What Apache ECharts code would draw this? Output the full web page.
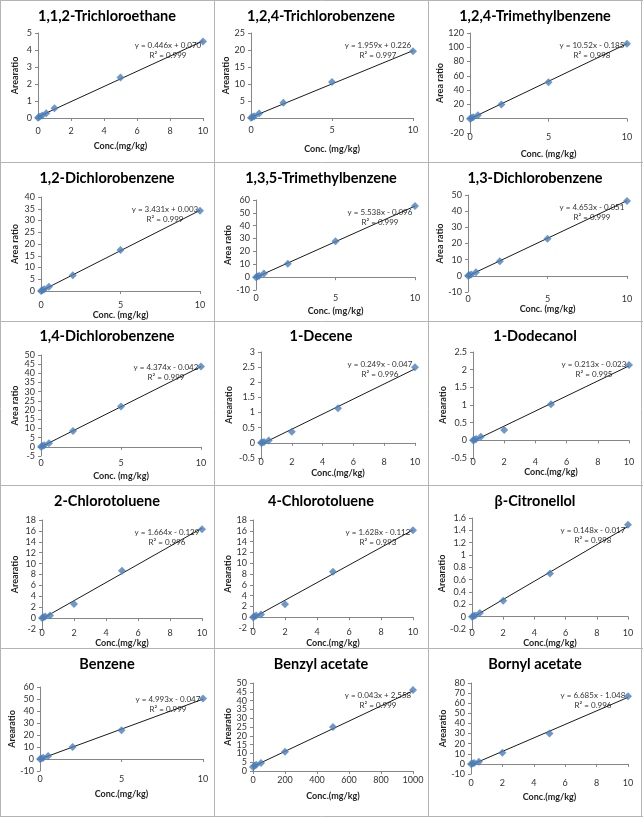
<!DOCTYPE html>
<html><head><meta charset="utf-8">
<script src="https://cdn.jsdelivr.net/npm/echarts@6/dist/echarts.min.js"></script>
<style>html,body{margin:0;padding:0;background:#fff}#c{width:643px;height:817px}</style>
</head><body><div id="c"></div>
<script>
// ---------- data ----------
const titles = ['1,1,2-Trichloroethane','1,2,4-Trichlorobenzene','1,2,4-Trimethylbenzene',
  '1,2-Dichlorobenzene','1,3,5-Trimethylbenzene','1,3-Dichlorobenzene',
  '1,4-Dichlorobenzene','1-Decene','1-Dodecanol',
  '2-Chlorotoluene','4-Chlorotoluene','β-Citronellol',
  'Benzene','Benzyl acetate','Bornyl acetate'];
const xNames = ['Conc.(mg/kg)','Conc. (mg/kg)','Conc. (mg/kg)','Conc. (mg/kg)','Conc. (mg/kg)','Conc. (mg/kg)',
  'Conc. (mg/kg)','Conc.(mg/kg)','Conc.(mg/kg)','Conc.(mg/kg)','Conc.(mg/kg)','Conc.(mg/kg)',
  'Conc.(mg/kg)','Conc.(mg/kg)','Conc.(mg/kg)'];
const yNames = ['Arearatio','Arearatio','Area ratio','Area ratio','Area ratio','Area ratio',
  'Area ratio','Arearatio','Arearatio','Arearatio','Arearatio','Arearatio',
  'Arearatio','Arearatio','Arearatio'];
const concA = [0, 0.1, 0.25, 0.5, 1, 5, 10];
const concB = [0, 0.1, 0.2, 0.5, 2, 5, 10];
const concC = [0, 10, 20, 50, 200, 500, 1000];
const concX = [concA, concB, concB, concB, concB, concB, concB, concB, concB, concB, concB, concB, concB, concC, concB];
const trichloroethane = [0.02, 0.08, 0.15, 0.28, 0.57, 2.38, 4.5];
const trichlorobenzene = [0.05, 0.3, 0.55, 1.3, 4.5, 10.6, 19.6];
const trimethylbenzene124 = [0, 1, 2, 5, 20, 51, 105];
const dichlorobenzene12 = [0, 0.3, 0.7, 1.8, 6.7, 17.5, 34.2];
const trimethylbenzene135 = [0, 0.5, 1, 2.8, 10.5, 28, 55.3];
const dichlorobenzene13 = [0, 0.4, 0.9, 2.2, 9, 23, 46.3];
const dichlorobenzene14 = [0, 0.4, 0.8, 2, 8.6, 22, 43.8];
const decene = [0, 0.01, 0.03, 0.08, 0.37, 1.14, 2.5];
const dodecanol = [0, 0.02, 0.04, 0.1, 0.29, 1.02, 2.13];
const chlorotoluene2 = [0, 0.15, 0.3, 0.5, 2.6, 8.7, 16.3];
const chlorotoluene4 = [0, 0.15, 0.3, 0.5, 2.4, 8.4, 16.1];
const citronellol = [0, 0.01, 0.02, 0.06, 0.26, 0.7, 1.49];
const benzene = [0, 0.5, 1, 2.5, 10, 24, 50.5];
const benzylAcetate = [2.3, 3, 3.5, 4.5, 11, 25, 46];
const bornylAcetate = [0, 0.5, 1, 2, 11, 30, 67];
const areaRatios = [trichloroethane, trichlorobenzene, trimethylbenzene124, dichlorobenzene12, trimethylbenzene135,
  dichlorobenzene13, dichlorobenzene14, decene, dodecanol, chlorotoluene2, chlorotoluene4, citronellol,
  benzene, benzylAcetate, bornylAcetate];
const slopes = [0.446, 1.959, 10.52, 3.431, 5.538, 4.653, 4.374, 0.249, 0.213, 1.664, 1.628, 0.148, 4.993, 0.043, 6.685];
const intercepts = [0.070, 0.226, -0.185, 0.003, -0.096, -0.051, -0.042, -0.047, -0.023, -0.129, -0.112, -0.017, -0.047, 2.558, -1.048];
const eqTexts = ['y = 0.446x + 0.070','y = 1.959x + 0.226','y = 10.52x - 0.185','y = 3.431x + 0.003','y = 5.538x - 0.096',
  'y = 4.653x - 0.051','y = 4.374x - 0.042','y = 0.249x - 0.047','y = 0.213x - 0.023','y = 1.664x - 0.129',
  'y = 1.628x - 0.112','y = 0.148x - 0.017','y = 4.993x - 0.047','y = 0.043x + 2.558','y = 6.685x - 1.048'];
const r2Texts = ['R² = 0.999','R² = 0.997','R² = 0.998','R² = 0.999','R² = 0.999','R² = 0.999','R² = 0.999','R² = 0.996',
  'R² = 0.995','R² = 0.996','R² = 0.993','R² = 0.998','R² = 0.999','R² = 0.999','R² = 0.996'];
const yMin = [0, 0, -20, 0, -10, -10, -5, -0.5, -0.5, -2, -2, -0.2, -10, 0, -10];
const yMax = [5, 25, 120, 40, 60, 50, 50, 3, 2.5, 18, 18, 1.6, 60, 50, 80];
const yStep = [1, 5, 20, 5, 10, 10, 5, 0.5, 0.5, 2, 2, 0.2, 10, 5, 10];
const xMax = [10, 10, 10, 10, 10, 10, 10, 10, 10, 10, 10, 10, 10, 1000, 10];
const xStep = [2, 5, 5, 5, 5, 5, 5, 2, 2, 2, 2, 2, 5, 200, 2];

// ---------- layout (pixels) ----------
// [left, top, right, bottom, xLabelCenterY, xNameCenterY]
const layout = [
  [38, 33, 203, 118, 132, 147], [251, 33, 413, 118, 131, 150], [470, 33, 627, 133, 137, 155],
  [41, 197, 200, 291, 306, 316], [256, 200, 415, 290, 299, 312], [468, 195, 627, 292, 300, 310],
  [41, 355, 201, 456, 464, 477], [261, 352, 415, 458, 461, 474], [473, 352, 629, 458, 461, 471],
  [42, 520, 202, 629, 633, 641], [253, 520, 413, 628, 632, 644], [472, 518, 628, 629, 633, 644],
  [40, 687, 203, 771, 780, 795], [253, 683, 413, 771, 781, 797], [471, 683, 628, 774, 784, 798]
];
const cellX = [0, 214, 428];
const cellTitleY = [16, 178, 336, 501, 664];

const FONT = 'Lato, "Open Sans", sans-serif';
const fmt = v => String(+v.toFixed(4));
const ticksOf = (mn, mx, st) => { const a = []; const n = Math.round((mx - mn) / st); for (let k = 0; k <= n; k++) a.push(+(mn + k * st).toFixed(4)); return a; };
const grids = [], xAxes = [], yAxes = [], series = [], graphics = [];
const lblStyle = {fontSize: 9, color: '#333', fontFamily: FONT};
layout.forEach((L, i) => {
  const [l, t, r, b, lblY, nameY] = L;
  const col = i % 3, row = Math.floor(i / 3);
  grids.push({left: l, top: t, width: r - l, height: b - t});
  const xt = ticksOf(0, xMax[i], xStep[i]);
  const yt = ticksOf(yMin[i], yMax[i], yStep[i]);
  const ytEven = yt.filter((v, k) => k % 2 === 0);
  const ytOdd = yt.filter((v, k) => k % 2 === 1);
  // label axis (bottom)
  xAxes.push({
    gridIndex: i, type: 'value', min: 0, max: xMax[i], interval: xStep[i],
    axisLine: {show: false, onZero: false}, axisTick: {show: false}, splitLine: {show: false},
    axisLabel: Object.assign({margin: Math.max(0, lblY - b - 5), formatter: fmt, customValues: xt}, lblStyle),
    name: xNames[i], nameLocation: 'middle', nameGap: nameY - b - 5,
    nameTextStyle: {fontSize: 9, fontWeight: 'bold', color: '#222', fontFamily: FONT}
  });
  // line axis at zero
  xAxes.push({
    gridIndex: i, type: 'value', min: 0, max: xMax[i], interval: xStep[i], position: 'bottom',
    axisLine: {show: true, onZero: true, lineStyle: {color: '#868686', width: 1}},
    axisTick: {show: true, length: 3, customValues: xt, lineStyle: {color: '#868686'}},
    axisLabel: {show: false}, splitLine: {show: false}
  });
  // main y axis: line, ticks, even labels, name
  yAxes.push({
    gridIndex: i, type: 'value', min: yMin[i], max: yMax[i], interval: yStep[i], position: 'left',
    axisLine: {show: true, onZero: false, lineStyle: {color: '#868686', width: 1}},
    axisTick: {show: true, length: 3, customValues: yt, lineStyle: {color: '#868686'}},
    splitLine: {show: false},
    axisLabel: Object.assign({margin: 6, formatter: fmt, customValues: ytEven}, lblStyle),
    name: yNames[i], nameLocation: 'middle', nameRotate: 90, nameGap: l - cellX[col] - 20,
    nameTextStyle: {fontSize: 9, fontWeight: 'bold', color: '#222', fontFamily: FONT}
  });
  // secondary y axis: odd labels only
  yAxes.push({
    gridIndex: i, type: 'value', min: yMin[i], max: yMax[i], interval: yStep[i], position: 'left', offset: 0,
    axisLine: {show: false, onZero: false}, axisTick: {show: false}, splitLine: {show: false},
    axisLabel: Object.assign({margin: 6, formatter: fmt, customValues: ytOdd}, lblStyle)
  });
  series.push({
    type: 'line', xAxisIndex: 2 * i, yAxisIndex: 2 * i, showSymbol: false, silent: true,
    lineStyle: {color: '#000', width: 0.9}, animation: false, z: 2,
    data: [[0, intercepts[i]], [xMax[i], slopes[i] * xMax[i] + intercepts[i]]]
  });
  series.push({
    type: 'scatter', xAxisIndex: 2 * i, yAxisIndex: 2 * i, symbol: 'diamond', symbolSize: 8,
    itemStyle: {color: '#4a7ebb'}, animation: false, z: 3,
    data: concX[i].map((x, k) => [x, areaRatios[i][k]])
  });
  graphics.push({
    type: 'text', x: cellX[col] + 107, y: cellTitleY[row], silent: true,
    style: {text: titles[i], fontSize: 14.5, fontWeight: 'bold', fill: '#000', fontFamily: FONT,
      textAlign: 'center', textVerticalAlign: 'middle'}
  });
  graphics.push({
    type: 'text', x: r - 35, y: t + 12, silent: true,
    style: {text: eqTexts[i], fontSize: 8, fill: '#333', fontFamily: FONT, textAlign: 'center', textVerticalAlign: 'middle'}
  });
  graphics.push({
    type: 'text', x: r - 35, y: t + 22, silent: true,
    style: {text: r2Texts[i], fontSize: 8, fill: '#333', fontFamily: FONT, textAlign: 'center', textVerticalAlign: 'middle'}
  });
});
// cell borders
const bc = '#b4b4b4';
[0.5, 214.5, 428.5, 641.5].forEach(x => graphics.push({type: 'line', silent: true,
  shape: {x1: x, y1: 0, x2: x, y2: 817}, style: {stroke: bc, lineWidth: 1}}));
[0.5, 162.5, 321.5, 485.5, 648.5, 816.5].forEach(y => graphics.push({type: 'line', silent: true,
  shape: {x1: 0, y1: y, x2: 643, y2: y}, style: {stroke: bc, lineWidth: 1}}));

const chart = echarts.init(document.getElementById('c'), null, {renderer: 'canvas'});
chart.setOption({
  animation: false, backgroundColor: '#fff',
  grid: grids, xAxis: xAxes, yAxis: yAxes, series: series, graphic: graphics
});
</script></body></html>
